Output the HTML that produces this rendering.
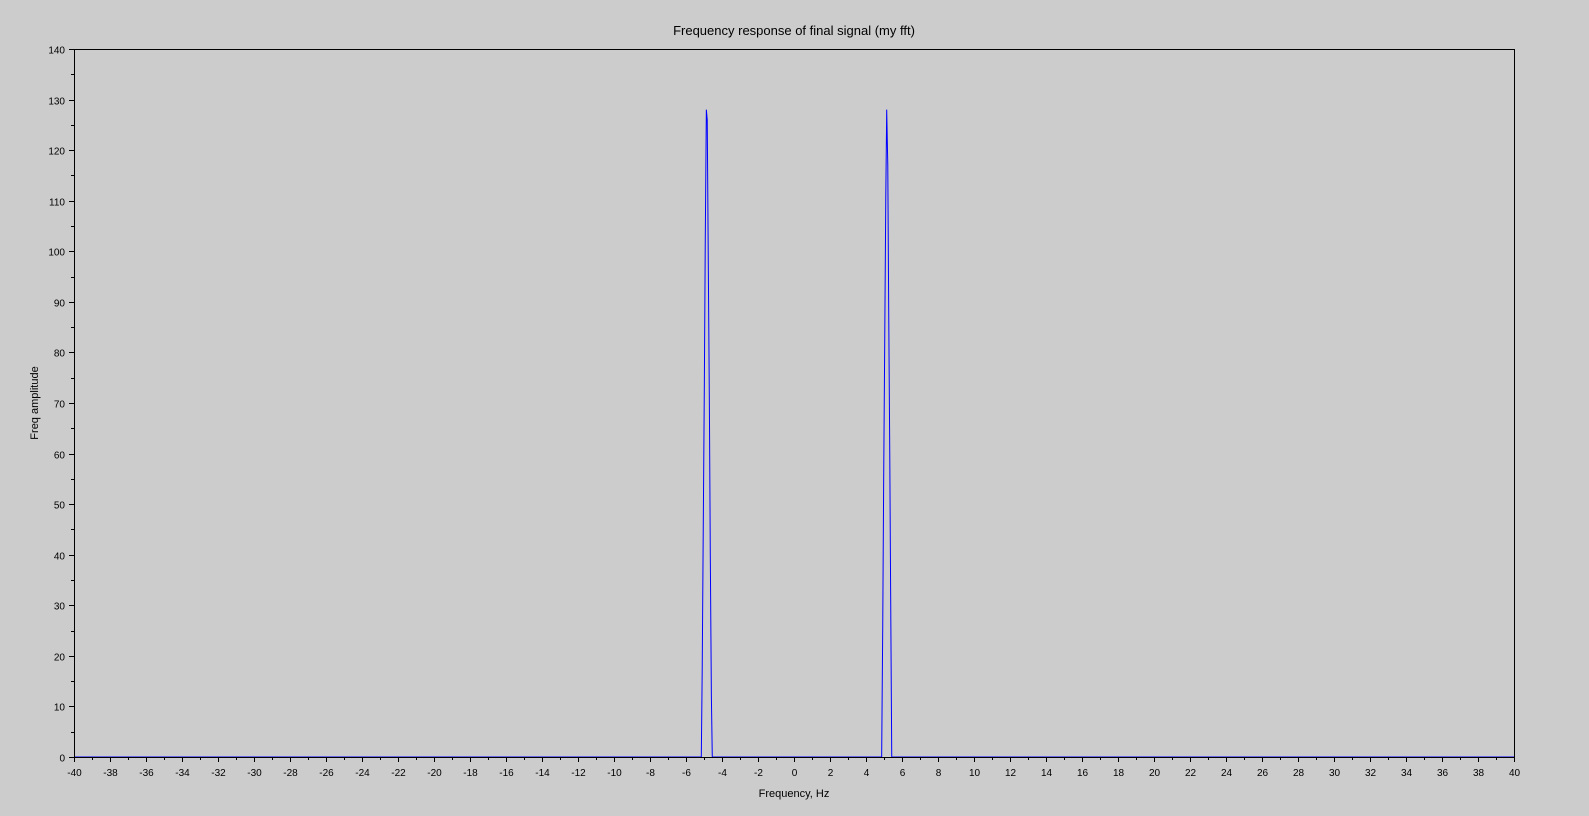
<!DOCTYPE html>
<html><head><meta charset="utf-8"><style>
html,body{margin:0;padding:0;background:#cccccc;}
svg{display:block;font-family:"Liberation Sans",sans-serif;}
</style></head><body>
<svg id="chart" width="1589" height="816" xmlns="http://www.w3.org/2000/svg">
<rect width="1589" height="816" fill="#cccccc"/>
<text x="794" y="35" font-size="13" text-anchor="middle">Frequency response of final signal (my fft)</text>
<text x="794" y="797" font-size="11" text-anchor="middle">Frequency, Hz</text>
<text transform="translate(38,403) rotate(-90)" font-size="11" text-anchor="middle">Freq amplitude</text>
<g id="series"></g>
<rect x="74.5" y="49.5" width="1440" height="708" fill="none" stroke="#000" stroke-width="1"/>
<g id="ticks"></g>
</svg>
<script>
const freqs = [-40, -5.15, -5.10, -5.04, -4.98, -4.93, -4.87, -4.82, -4.76, -4.70, -4.65, -4.59, -4.54, 4.87, 4.93, 4.98, 5.04, 5.10, 5.15, 5.21, 5.26, 5.32, 5.37, 5.43, 40];
const amps  = [0, 0, 17, 46, 74, 102, 128, 126, 97, 69, 40, 12, 0, 0, 26, 54, 82, 111, 128, 117, 89, 60, 32, 0, 0];
const xTickLabels = [-40,-38,-36,-34,-32,-30,-28,-26,-24,-22,-20,-18,-16,-14,-12,-10,-8,-6,-4,-2,0,2,4,6,8,10,12,14,16,18,20,22,24,26,28,30,32,34,36,38,40];
const yTickLabels = [0,10,20,30,40,50,60,70,80,90,100,110,120,130,140];

const NS = "http://www.w3.org/2000/svg";
const X0 = 74, X1 = 1514, Y0 = 757, Y1 = 49;
function xs(v){ return X0 + (v + 40) / 80 * (X1 - X0); }
function ys(v){ return Y0 - v / 140 * (Y0 - Y1); }
const tg = document.getElementById('ticks');
function line(x1,y1,x2,y2,name){
  const l = document.createElementNS(NS,'line');
  l.setAttribute('x1',x1);l.setAttribute('y1',y1);l.setAttribute('x2',x2);l.setAttribute('y2',y2);
  l.setAttribute('stroke','#000');l.setAttribute('stroke-width','1');
  
  
  tg.appendChild(l);
}
function text(x,y,s,anchor,name){
  const t = document.createElementNS(NS,'text');
  t.setAttribute('x',x);t.setAttribute('y',y);t.setAttribute('font-size','10');t.setAttribute('text-anchor',anchor);
  t.textContent = s;
  
  
  tg.appendChild(t);
}
xTickLabels.forEach((v,i)=>{
  const x = Math.round(xs(v))+0.5;
  line(x,Y0,x,Y0+5,'x-major-tick');
  text(x,Y0+19,String(v),'middle','x-tick-label');
  if(i<xTickLabels.length-1){ const xm=Math.round(xs(v+1))+0.5; line(xm,Y0,xm,Y0+3,'x-minor-tick'); }
});
yTickLabels.forEach((v,i)=>{
  const y = Math.round(ys(v))+0.5;
  line(X0-5,y,X0,y,'y-major-tick');
  text(X0-9,y+4,String(v),'end','y-tick-label');
  if(i<yTickLabels.length-1){ const ym=Math.round(ys(v+5))+0.5; line(X0-3,ym,X0,ym,'y-minor-tick'); }
});
const sg = document.getElementById('series');
const pl = document.createElementNS(NS,'polyline');
pl.setAttribute('points', freqs.map((f,i)=>xs(f).toFixed(2)+','+ys(amps[i]).toFixed(2)).join(' '));
pl.setAttribute('fill','none');pl.setAttribute('stroke','#0000ff');pl.setAttribute('stroke-width','1');


sg.appendChild(pl);
</script>
</body></html>
